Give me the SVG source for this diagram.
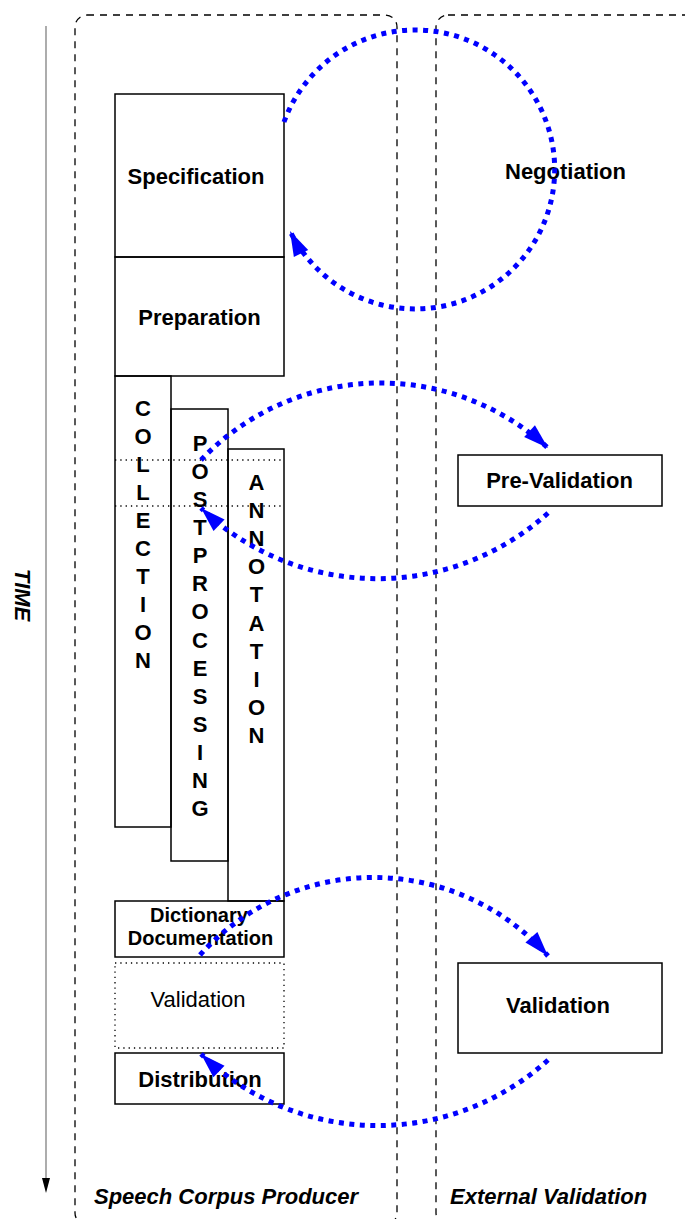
<svg xmlns="http://www.w3.org/2000/svg" width="685" height="1219" viewBox="0 0 685 1219">
<style>
.lane{fill:none;stroke:#000;stroke-width:1.3;stroke-dasharray:7 6}
.box{fill:none;stroke:#000;stroke-width:1.5}
.dot{fill:none;stroke:#000;stroke-width:1.3;stroke-dasharray:1.3 4}
.lbl{font-family:"Liberation Sans",Arial,sans-serif;font-weight:bold;font-size:22px;fill:#000;text-anchor:middle}
.sm{font-size:20px}
.reg{font-weight:normal}
.it{font-family:"Liberation Sans",Arial,sans-serif;font-weight:bold;font-style:italic;font-size:22px;fill:#000}
.arc{fill:none;stroke:#00f;stroke-width:5;stroke-dasharray:5 5.5}
</style>
<defs>
<marker id="ah" markerUnits="userSpaceOnUse" markerWidth="30" markerHeight="20" viewBox="-27 -10 30 20" refX="0" refY="0" orient="auto" overflow="visible">
<path d="M0,0 L-25,-8 L-25,8 Z" fill="#00f"/>
</marker>
</defs>
<g id="lanes">
<rect id="lane-producer" class="lane" x="75" y="15" width="322" height="1210" rx="12"/>
<rect id="lane-external" class="lane" x="436" y="15" width="262" height="1210" rx="12"/>
<text class="it" x="94" y="1204">Speech Corpus Producer</text>
<text class="it" x="450" y="1204">External Validation</text>
</g>
<g id="time">
<line x1="46" y1="26" x2="46" y2="1180" stroke="#808080" stroke-width="1.3"/>
<polygon points="42,1178 50,1178 46,1193" fill="#000"/>
<text class="it" x="15" y="595" text-anchor="middle" transform="rotate(90 15 595)" dy="0">TIME</text>
</g>
<g id="specification">
<rect class="box" x="115" y="94" width="169" height="163"/>
<text class="lbl" x="196" y="184">Specification</text>
</g>
<g id="preparation">
<rect class="box" x="115" y="257" width="169" height="119"/>
<text class="lbl" x="199.5" y="325">Preparation</text>
</g>
<g id="collection">
<rect class="box" x="115" y="376" width="56" height="451"/>
<text class="lbl" x="143 143 143 143 143 143 143 143 143 143" y="416 444 472 500 528 556 584 612 640 668">COLLECTION</text>
</g>
<g id="postprocessing">
<rect class="box" x="171" y="409" width="57" height="452"/>
<text class="lbl" x="200 200 200 200 200 200 200 200 200 200 200 200 200 200" y="451 479 507 535 563 591 619 648 676 704 732 760 788 816">POSTPROCESSING</text>
</g>
<g id="annotation">
<rect class="box" x="228" y="449" width="56" height="452"/>
<text class="lbl" x="256.5 256.5 256.5 256.5 256.5 256.5 256.5 256.5 256.5 256.5" y="490 518 546 574 602 631 659 687 715 743">ANNOTATION</text>
</g>
<g id="prevalidation-period">
<line class="dot" x1="115" y1="460" x2="284" y2="460"/>
<line class="dot" x1="115" y1="506" x2="284" y2="506"/>
</g>
<g id="dictionary-documentation">
<rect class="box" x="115" y="901" width="169" height="56"/>
<text class="lbl sm" x="199" y="922">Dictionary</text>
<text class="lbl sm" x="200.5" y="945">Documentation</text>
</g>
<g id="validation-internal">
<rect class="dot" x="115" y="963" width="169" height="85"/>
<text class="lbl reg" x="198" y="1007">Validation</text>
</g>
<g id="distribution">
<rect class="box" x="115" y="1053" width="169" height="51"/>
<text class="lbl" x="200" y="1087">Distribution</text>
</g>
<g id="negotiation">
<text class="lbl" x="565.5" y="179">Negotiation</text>
</g>
<g id="pre-validation">
<rect class="box" x="458" y="455" width="204" height="51"/>
<text class="lbl" x="559.5" y="488">Pre-Validation</text>
</g>
<g id="validation-external">
<rect class="box" x="458" y="963" width="204" height="90"/>
<text class="lbl" x="558" y="1013">Validation</text>
</g>
<g id="connectors">
<path class="arc" d="M284,122 A139.5,139.5 0 1 1 290,231" marker-end="url(#ah)"/>
<path class="arc" d="M201,460 A248,248 0 0 1 548,448" marker-end="url(#ah)"/>
<path class="arc" d="M548,513 A255,255 0 0 1 201,508" marker-end="url(#ah)"/>
<path class="arc" d="M200,955 A233,233 0 0 1 548,956" marker-end="url(#ah)"/>
<path class="arc" d="M548,1060 A254,254 0 0 1 201,1054" marker-end="url(#ah)"/>
</g>
</svg>
